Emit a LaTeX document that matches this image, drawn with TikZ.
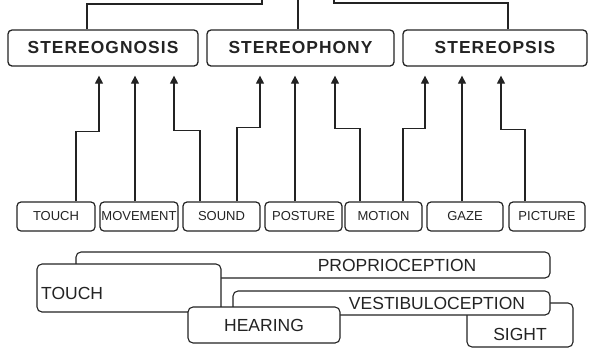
\documentclass[tikz,border=0pt]{standalone}
\usepackage{fontspec}
\setmainfont{Liberation Sans}
\newfontfamily\topfont[LetterSpace=6]{Liberation Sans}
\usetikzlibrary{arrows.meta}
\definecolor{ink}{RGB}{35,35,35}
\begin{document}
\begin{tikzpicture}[x=1pt,y=-1pt,
  topbox/.style={draw=ink,line width=1.3pt,rounded corners=4pt,minimum height=36pt,
     inner sep=0pt,font=\topfont\fontsize{17.4}{18}\selectfont\bfseries,text=ink},
  smallbox/.style={draw=ink,line width=1.2pt,rounded corners=4pt,minimum height=29pt,
     inner sep=0pt,font=\fontsize{13}{14}\selectfont,text=ink},
  bigbox/.style={draw=ink,line width=1.1pt,rounded corners=5pt,fill=white,inner sep=0pt},
  lab/.style={inner sep=0pt,font=\fontsize{17.5}{19}\selectfont,text=ink,anchor=base},
  wire/.style={draw=ink,line width=1.3pt},
  arr/.style={wire,-{Triangle[length=8pt,width=8pt]},shorten >=9pt}]
\useasboundingbox (0,0) rectangle (589,360);

% top row
\node[topbox,minimum width=190pt] (gnosis) at (103,48) {STEREOGNOSIS};
\node[topbox,minimum width=187pt] (phony) at (300.5,48) {STEREOPHONY};
\node[topbox,minimum width=184pt] (opsis) at (495,48) {STEREOPSIS};

% top connections
\coordinate (c1) at (262,0);
\coordinate (c2) at (298,0);
\coordinate (c3) at (334,0);
\draw[wire] ([xshift=-16pt]gnosis.north) |- (262,4) -- (c1);
\draw[wire] ([xshift=-2.5pt]phony.north) -- (c2);
\draw[wire] ([xshift=13pt]opsis.north) |- (334,3) -- (c3);

% bottom row
\node[smallbox,minimum width=78pt] (touch) at (56,216.5) {TOUCH};
\node[smallbox,minimum width=78pt] (move) at (139,216.5) {MOVEMENT};
\node[smallbox,minimum width=77pt] (sound) at (221.5,216.5) {SOUND};
\node[smallbox,minimum width=77pt] (post) at (303.5,216.5) {POSTURE};
\node[smallbox,minimum width=77pt] (motion) at (383.5,216.5) {MOTION};
\node[smallbox,minimum width=76pt] (gaze) at (465,216.5) {GAZE};
\node[smallbox,minimum width=76pt] (pict) at (547,216.5) {PICTURE};

% arrows
\draw[arr] ([xshift=20pt]touch.north) -- ++(0,-70) -| ([xshift=-4pt]gnosis.south);
\draw[arr] ([xshift=-4pt]move.north) -- ([xshift=32pt]gnosis.south);
\draw[arr] ([xshift=-21.5pt]sound.north) -- ++(0,-71) -| ([xshift=71pt]gnosis.south);
\draw[arr] ([xshift=15.5pt]sound.north) -- ++(0,-74) -| ([xshift=-40.5pt]phony.south);
\draw[arr] ([xshift=-8.5pt]post.north) -- ([xshift=-5.5pt]phony.south);
\draw[arr] ([xshift=-23.5pt]motion.north) -- ++(0,-73) -| ([xshift=34.5pt]phony.south);
\draw[arr] ([xshift=19.5pt]motion.north) -- ++(0,-73) -| ([xshift=-70pt]opsis.south);
\draw[arr] ([xshift=-3pt]gaze.north) -- ([xshift=-33pt]opsis.south);
\draw[arr] ([xshift=-22pt]pict.north) -- ++(0,-72) -| ([xshift=6pt]opsis.south);

% lower overlapping boxes
\node[bigbox,minimum width=474pt,minimum height=26pt] (prop) at (313,265) {};
\node[lab] (propt) at (397,271) {PROPRIOCEPTION};
\node[bigbox,minimum width=184pt,minimum height=48pt] (touchb) at (129,288) {};
\node[lab,anchor=base west] (toucht) at (41,299) {TOUCH};
\node[bigbox,minimum width=106pt,minimum height=44pt] (sight) at (520,325) {};
\node[lab] (sightt) at (520,340.5) {SIGHT};
\node[bigbox,minimum width=317pt,minimum height=24pt] (vest) at (391.5,303) {};
\node[lab] (vestt) at (437,309.5) {VESTIBULOCEPTION};
\node[bigbox,minimum width=152pt,minimum height=36pt] (hear) at (264,325) {};
\node[lab] (heart) at (264,331.5) {HEARING};
\end{tikzpicture}
\end{document}
